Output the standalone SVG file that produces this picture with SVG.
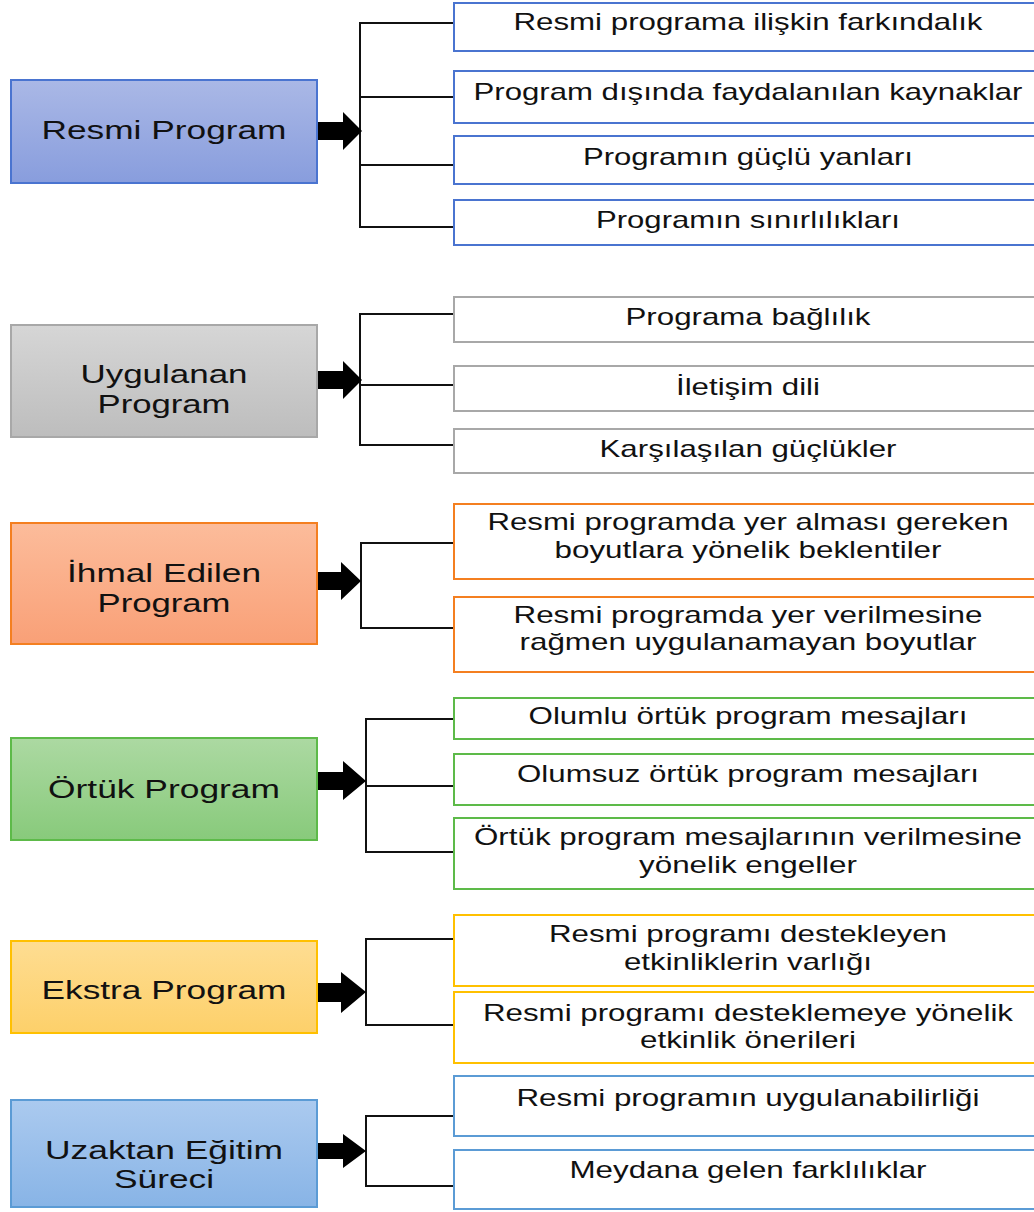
<svg xmlns="http://www.w3.org/2000/svg" width="1034" height="1212" viewBox="0 0 1034 1212">
<defs>
<linearGradient id="gBlue" x1="0" y1="0" x2="0" y2="1"><stop offset="0" stop-color="#aab8e6"/><stop offset="1" stop-color="#889ddd"/></linearGradient>
<linearGradient id="gGray" x1="0" y1="0" x2="0" y2="1"><stop offset="0" stop-color="#d6d6d6"/><stop offset="1" stop-color="#bdbdbd"/></linearGradient>
<linearGradient id="gOrange" x1="0" y1="0" x2="0" y2="1"><stop offset="0" stop-color="#fcbc9b"/><stop offset="1" stop-color="#f9a077"/></linearGradient>
<linearGradient id="gGreen" x1="0" y1="0" x2="0" y2="1"><stop offset="0" stop-color="#acd9a2"/><stop offset="1" stop-color="#88ca7b"/></linearGradient>
<linearGradient id="gYellow" x1="0" y1="0" x2="0" y2="1"><stop offset="0" stop-color="#fedd92"/><stop offset="1" stop-color="#fdd06a"/></linearGradient>
<linearGradient id="gSky" x1="0" y1="0" x2="0" y2="1"><stop offset="0" stop-color="#abcaef"/><stop offset="1" stop-color="#88b4e6"/></linearGradient>
</defs>
<style>
text{font-family:"Liberation Sans",Arial,sans-serif;fill:#111;text-anchor:middle}
.lt{font-size:25px}
.rt{font-size:24px}
.main{stroke-width:2}
.sub{fill:#fff;stroke-width:2}
.blue{stroke:#4a74d0}
.gray{stroke:#a8a8a8}
.orange{stroke:#f47f20}
.green{stroke:#5dba49}
.yellow{stroke:#ffc000}
.sky{stroke:#5b9bd5}
.br{fill:none;stroke:#111;stroke-width:2}
.arr{fill:#000}
</style>
<rect width="1034" height="1212" fill="#fff"/>

<g id="connectors">
<path class="br" d="M453 23H360V227H453M360 97H453M360 165H453"/>
<path class="arr" d="M317 122H343V112L362 131L343 150V140H317Z"/>
<path class="br" d="M453 314H360V445H453M360 385H453"/>
<path class="arr" d="M317 371H343V361L362 380L343 399V389H317Z"/>
<path class="br" d="M453 543H361V628H453"/>
<path class="arr" d="M317 572H341V562L361 581L341 600V590H317Z"/>
<path class="br" d="M453 719H366V852H453M366 786H453"/>
<path class="arr" d="M317 772H343V761L366 781L343 800V790H317Z"/>
<path class="br" d="M453 939H366V1025H453"/>
<path class="arr" d="M317 983H341V972L366 992L341 1013V1002H317Z"/>
<path class="br" d="M453 1116H366V1186H453"/>
<path class="arr" d="M317 1143H343V1134L366 1151L343 1168V1159H317Z"/>
</g>

<g id="resmi">
<rect class="main blue" x="11" y="80" width="306" height="103" fill="url(#gBlue)"/>
<text class="lt" x="164" y="139" textLength="245" lengthAdjust="spacingAndGlyphs">Resmi Program</text>
</g>
<g id="resmi-1"><rect class="sub blue" x="454" y="3" width="600" height="48"/><text class="rt" x="748" y="30" textLength="469" lengthAdjust="spacingAndGlyphs">Resmi programa ilişkin farkındalık</text></g>
<g id="resmi-2"><rect class="sub blue" x="454" y="71" width="600" height="52"/><text class="rt" x="748" y="100" textLength="549" lengthAdjust="spacingAndGlyphs">Program dışında faydalanılan kaynaklar</text></g>
<g id="resmi-3"><rect class="sub blue" x="454" y="136" width="600" height="48"/><text class="rt" x="748" y="165" textLength="330" lengthAdjust="spacingAndGlyphs">Programın güçlü yanları</text></g>
<g id="resmi-4"><rect class="sub blue" x="454" y="200" width="600" height="45"/><text class="rt" x="748" y="228" textLength="304" lengthAdjust="spacingAndGlyphs">Programın sınırlılıkları</text></g>

<g id="uygulanan">
<rect class="main gray" x="11" y="325" width="306" height="112" fill="url(#gGray)"/>
<text class="lt" x="164" y="383" textLength="167" lengthAdjust="spacingAndGlyphs">Uygulanan</text>
<text class="lt" x="164" y="413" textLength="133" lengthAdjust="spacingAndGlyphs">Program</text>
</g>
<g id="uygulanan-1"><rect class="sub gray" x="454" y="297" width="600" height="45"/><text class="rt" x="748" y="325" textLength="245" lengthAdjust="spacingAndGlyphs">Programa bağlılık</text></g>
<g id="uygulanan-2"><rect class="sub gray" x="454" y="366" width="600" height="45"/><text class="rt" x="748" y="395" textLength="144" lengthAdjust="spacingAndGlyphs">İletişim dili</text></g>
<g id="uygulanan-3"><rect class="sub gray" x="454" y="429" width="600" height="44"/><text class="rt" x="748" y="457" textLength="297" lengthAdjust="spacingAndGlyphs">Karşılaşılan güçlükler</text></g>

<g id="ihmal">
<rect class="main orange" x="11" y="523" width="306" height="121" fill="url(#gOrange)"/>
<text class="lt" x="164" y="582" textLength="194" lengthAdjust="spacingAndGlyphs">İhmal Edilen</text>
<text class="lt" x="164" y="612" textLength="133" lengthAdjust="spacingAndGlyphs">Program</text>
</g>
<g id="ihmal-1"><rect class="sub orange" x="454" y="504" width="600" height="75"/>
<text class="rt" x="748" y="530" textLength="521" lengthAdjust="spacingAndGlyphs">Resmi programda yer alması gereken</text>
<text class="rt" x="748" y="558" textLength="387" lengthAdjust="spacingAndGlyphs">boyutlara yönelik beklentiler</text></g>
<g id="ihmal-2"><rect class="sub orange" x="454" y="597" width="600" height="75"/>
<text class="rt" x="748" y="623" textLength="469" lengthAdjust="spacingAndGlyphs">Resmi programda yer verilmesine</text>
<text class="rt" x="748" y="650" textLength="457" lengthAdjust="spacingAndGlyphs">rağmen uygulanamayan boyutlar</text></g>

<g id="ortuk">
<rect class="main green" x="11" y="738" width="306" height="102" fill="url(#gGreen)"/>
<text class="lt" x="164" y="798" textLength="232" lengthAdjust="spacingAndGlyphs">Örtük Program</text>
</g>
<g id="ortuk-1"><rect class="sub green" x="454" y="698" width="600" height="41"/><text class="rt" x="748" y="724" textLength="439" lengthAdjust="spacingAndGlyphs">Olumlu örtük program mesajları</text></g>
<g id="ortuk-2"><rect class="sub green" x="454" y="754" width="600" height="51"/><text class="rt" x="748" y="782" textLength="462" lengthAdjust="spacingAndGlyphs">Olumsuz örtük program mesajları</text></g>
<g id="ortuk-3"><rect class="sub green" x="454" y="818" width="600" height="71"/>
<text class="rt" x="748" y="845" textLength="548" lengthAdjust="spacingAndGlyphs">Örtük program mesajlarının verilmesine</text>
<text class="rt" x="748" y="873" textLength="218" lengthAdjust="spacingAndGlyphs">yönelik engeller</text></g>

<g id="ekstra">
<rect class="main yellow" x="11" y="941" width="306" height="92" fill="url(#gYellow)"/>
<text class="lt" x="164" y="999" textLength="245" lengthAdjust="spacingAndGlyphs">Ekstra Program</text>
</g>
<g id="ekstra-1"><rect class="sub yellow" x="454" y="915" width="600" height="71"/>
<text class="rt" x="748" y="942" textLength="398" lengthAdjust="spacingAndGlyphs">Resmi programı destekleyen</text>
<text class="rt" x="748" y="970" textLength="248" lengthAdjust="spacingAndGlyphs">etkinliklerin varlığı</text></g>
<g id="ekstra-2"><rect class="sub yellow" x="454" y="992" width="600" height="71"/>
<text class="rt" x="748" y="1021" textLength="530" lengthAdjust="spacingAndGlyphs">Resmi programı desteklemeye yönelik</text>
<text class="rt" x="748" y="1048" textLength="216" lengthAdjust="spacingAndGlyphs">etkinlik önerileri</text></g>

<g id="uzaktan">
<rect class="main sky" x="11" y="1100" width="306" height="107" fill="url(#gSky)"/>
<text class="lt" x="164" y="1159" textLength="238" lengthAdjust="spacingAndGlyphs">Uzaktan Eğitim</text>
<text class="lt" x="164" y="1188" textLength="100" lengthAdjust="spacingAndGlyphs">Süreci</text>
</g>
<g id="uzaktan-1"><rect class="sub sky" x="454" y="1076" width="600" height="60"/><text class="rt" x="748" y="1106" textLength="463" lengthAdjust="spacingAndGlyphs">Resmi programın uygulanabilirliği</text></g>
<g id="uzaktan-2"><rect class="sub sky" x="454" y="1150" width="600" height="59"/><text class="rt" x="748" y="1178" textLength="357" lengthAdjust="spacingAndGlyphs">Meydana gelen farklılıklar</text></g>
</svg>
